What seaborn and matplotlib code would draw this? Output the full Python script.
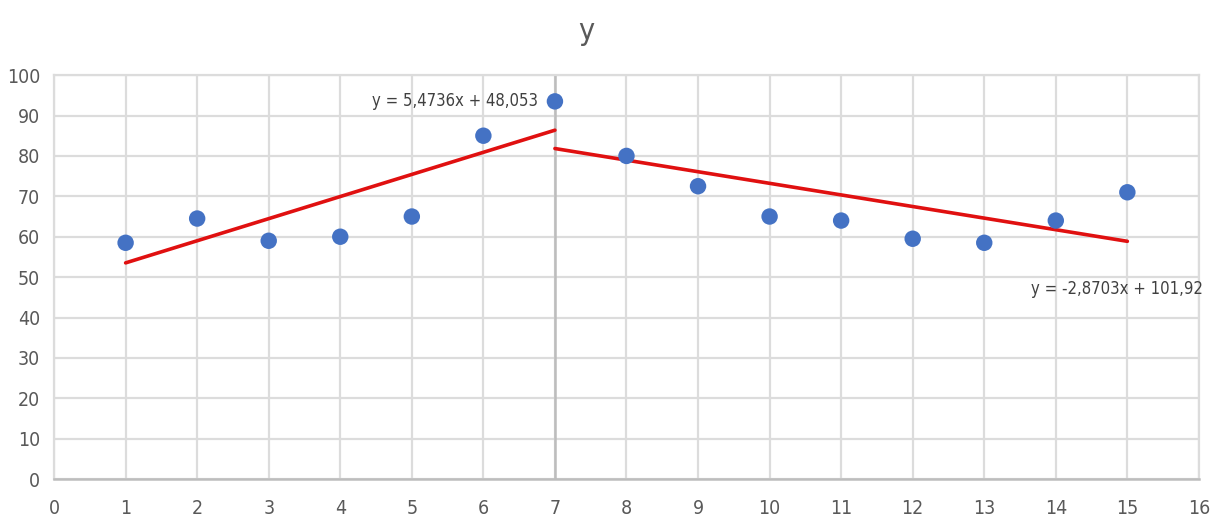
import numpy as np
import pandas as pd
import seaborn as sns
from matplotlib import pyplot as plt

# values
x_vals = [1, 2, 3, 4, 5, 6, 7, 8, 9, 10, 11, 12, 13, 14, 15]
y_vals = [58.5, 64.5, 59, 60, 65, 85, 93.5, 80, 72.5, 65, 64, 59.5, 58.5, 64, 71]

# trendlines as labelled on the chart
trend_slopes = [5.4736, -2.8703]
trend_intercepts = [48.053, 101.92]
trend_ranges = [(1, 7), (7, 15)]
trend_labels = ["y = 5,4736x + 48,053", "y = -2,8703x + 101,92"]
label_pos = [(5.6, 93.5), (14.85, 47)]

x_ticks = list(range(0, 17))
y_ticks = list(range(0, 101, 10))

sns.set_style("white")
plt.rcParams["font.family"] = ["DejaVu Sans"]
plt.rcParams["font.stretch"] = "condensed"

df = pd.DataFrame({"x": x_vals, "y": y_vals})

fig = plt.figure(figsize=(12.12, 5.18), dpi=100)
ax = fig.add_axes([0.0446, 0.075, 0.9446, 0.78])

grid_c = "#dcdcdc"
for xv in x_ticks:
    ax.axvline(xv, color=grid_c, lw=1.6, zorder=0)
for yv in y_ticks:
    ax.axhline(yv, color=grid_c, lw=1.6, zorder=0)
ax.axvline(7, color="#bdbdbd", lw=1.8, zorder=0.5)

for a, b, (x0, x1) in zip(trend_slopes, trend_intercepts, trend_ranges):
    xs = np.array([x0, x1])
    tdf = pd.DataFrame({"x": xs, "y": a * xs + b})
    sns.lineplot(data=tdf, x="x", y="y", ax=ax, color="#e01010", lw=2.6, zorder=2)

sns.scatterplot(data=df, x="x", y="y", ax=ax, color="#4472c4", s=140,
                edgecolor="none", zorder=3)

for txt, (tx, ty) in zip(trend_labels, label_pos):
    ax.text(tx, ty, txt, ha="center", va="center", fontsize=12, color="#404040",
            fontstretch="condensed")

ax.set_xlim(0, 16)
ax.set_ylim(0, 100)
ax.set_xticks(x_ticks)
ax.set_yticks(y_ticks)
ax.tick_params(axis="both", length=0, labelsize=14, labelcolor="#595959")
ax.tick_params(axis="x", pad=14)
ax.tick_params(axis="y", pad=10)
ax.set_xlabel("")
ax.set_ylabel("")
for side in ["top", "right", "left"]:
    ax.spines[side].set_color(grid_c)
    ax.spines[side].set_linewidth(1.6)
ax.spines["bottom"].set_color("#bdbdbd")
ax.spines["bottom"].set_linewidth(1.8)

fig.text(0.484, 0.94, "y", ha="center", va="center", fontsize=22, color="#595959")

fig.savefig("out.png", dpi=100)
